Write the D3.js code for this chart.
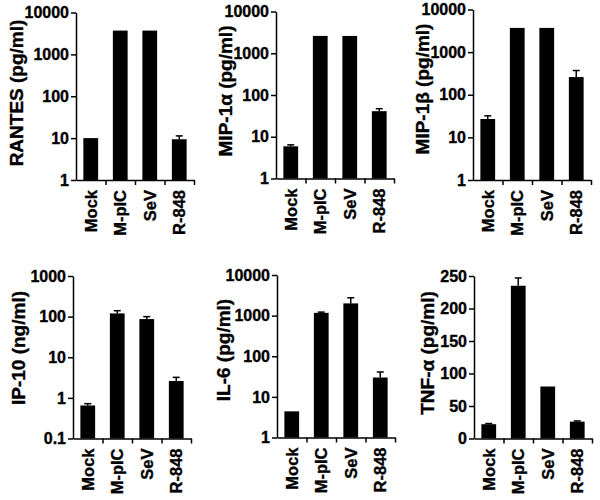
<!DOCTYPE html>
<html><head><meta charset="utf-8">
<script src="https://cdn.jsdelivr.net/npm/d3@7"></script>
<style>
body{margin:0;background:#fff}
svg text{font-family:"Liberation Sans",Arial,Helvetica,sans-serif;font-weight:bold;fill:#000;stroke:#000;stroke-width:0.35px}
</style>
</head><body>
<svg id="chart" width="600" height="500"></svg>
<script>
// ---- data ----
const categories = ["Mock", "M-pIC", "SeV", "R-848"];

const rantesValues = [10, 3700, 3700, 9.4];
const rantesErrors = [0, 0, 0, 1.9];
const mip1aValues = [5.9, 2600, 2600, 41];
const mip1aErrors = [0.5, 0, 0, 6];
const mip1bValues = [27, 3700, 3700, 260];
const mip1bErrors = [5, 0, 0, 110];
const ip10Values = [0.65, 120, 87, 2.6];
const ip10Errors = [0.07, 20, 13, 0.6];
const il6Values = [4.4, 1170, 2000, 30];
const il6Errors = [0, 50, 750, 11];
const tnfValues = [22, 235, 80, 26];
const tnfErrors = [1, 12, 0, 1];

const logTicks4 = ["1", "10", "100", "1000", "10000"];
const ip10Ticks = ["0.1", "1", "10", "100", "1000"];
const tnfTicks = ["0", "50", "100", "150", "200", "250"];

const titles = ["RANTES (pg/ml)", "MIP-1\u03b1 (pg/ml)", "MIP-1\u03b2 (pg/ml)",
                "IP-10 (ng/ml)", "IL-6 (pg/ml)", "TNF-\u03b1 (pg/ml)"];

// ---- layout (positions only) ----
const panels = [
  {title: titles[0], values: rantesValues, errors: rantesErrors, ticks: logTicks4, log: true, ax: 76,  top: 12.5, bot: 180, tx: 16,  ty: 93},
  {title: titles[1], values: mip1aValues,  errors: mip1aErrors,  ticks: logTicks4, log: true, ax: 276, top: 11.5, bot: 178.5, tx: 225, ty: 91},
  {title: titles[2], values: mip1bValues,  errors: mip1bErrors,  ticks: logTicks4, log: true, ax: 473, top: 9.5,  bot: 180, tx: 422, ty: 89},
  {title: titles[3], values: ip10Values,   errors: ip10Errors,   ticks: ip10Ticks, log: true, ax: 73,  top: 276,  bot: 438.5, tx: 18,  ty: 348},
  {title: titles[4], values: il6Values,    errors: il6Errors,    ticks: logTicks4, log: true, ax: 277, top: 275,  bot: 437.5, tx: 223, ty: 350},
  {title: titles[5], values: tnfValues,    errors: tnfErrors,    ticks: tnfTicks,  log: false, ax: 474, top: 276, bot: 438.5, tx: 427, ty: 353}
];

const svg = d3.select("#chart");
const axisWidth = 118;

panels.forEach(p => {
  const tickVals = p.ticks.map(Number);
  const dom = [tickVals[0], tickVals[tickVals.length - 1]];
  const y = (p.log ? d3.scaleLog() : d3.scaleLinear()).domain(dom).range([p.bot, p.top]);
  const x = d3.scaleBand().domain(categories).range([p.ax, p.ax + axisWidth])
              .paddingInner(0.5).paddingOuter(0.25);
  const xl = d3.scaleLinear().domain([0, categories.length]).range([p.ax, p.ax + axisWidth]);

  const g = svg.append("g");

  // bars
  g.selectAll("rect.bar").data(categories).join("rect")
    .attr("x", d => x(d))
    .attr("width", x.bandwidth())
    .attr("y", (d, i) => y(p.values[i]))
    .attr("height", (d, i) => y(dom[0]) - y(p.values[i]))
    .attr("fill", "#000");

  // error bars (upper)
  categories.forEach((c, i) => {
    if (!p.errors[i]) return;
    const cx = x(c) + x.bandwidth() / 2;
    const y0 = y(p.values[i]);
    const y1 = y(p.values[i] + p.errors[i]);
    g.append("line").attr("x1", cx).attr("x2", cx).attr("y1", y0).attr("y2", y1)
      .attr("stroke", "#000").attr("stroke-width", 1.5);
    g.append("line").attr("x1", cx - 3.5).attr("x2", cx + 3.5).attr("y1", y1).attr("y2", y1)
      .attr("stroke", "#000").attr("stroke-width", 1.5);
  });

  // y axis
  const ya = g.append("g").attr("transform", `translate(${p.ax},0)`)
    .call(d3.axisLeft(y).tickValues(tickVals).tickFormat((d, i) => p.ticks[i])
      .tickSize(5).tickSizeOuter(0).tickPadding(2));
  ya.attr("font-family", null).attr("font-size", null);
  ya.selectAll("text").style("font-size", "16px");
  ya.selectAll("path,line").attr("stroke", "#000").attr("stroke-width", 1.5);

  // x axis
  const xa = g.append("g").attr("transform", `translate(0,${p.bot})`)
    .call(d3.axisBottom(xl).tickValues(d3.range(1, categories.length + 1)).tickFormat("")
      .tickSize(5).tickSizeOuter(0));
  xa.selectAll("path,line").attr("stroke", "#000").attr("stroke-width", 1.5);

  // category labels
  g.selectAll("text.cat").data(categories).join("text")
    .attr("class", "cat")
    .attr("transform", d => `translate(${x(d) + x.bandwidth() / 2},${p.bot + 10}) rotate(-90)`)
    .attr("text-anchor", "end")
    .attr("dy", "0.36em")
    .style("font-size", "16.5px")
    .text(d => d);

  // y title
  g.append("text")
    .attr("transform", `translate(${p.tx},${p.ty}) rotate(-90)`)
    .attr("text-anchor", "middle")
    .attr("dy", "0.36em")
    .style("font-size", "19px")
    .text(p.title);
});
</script>
</body></html>
